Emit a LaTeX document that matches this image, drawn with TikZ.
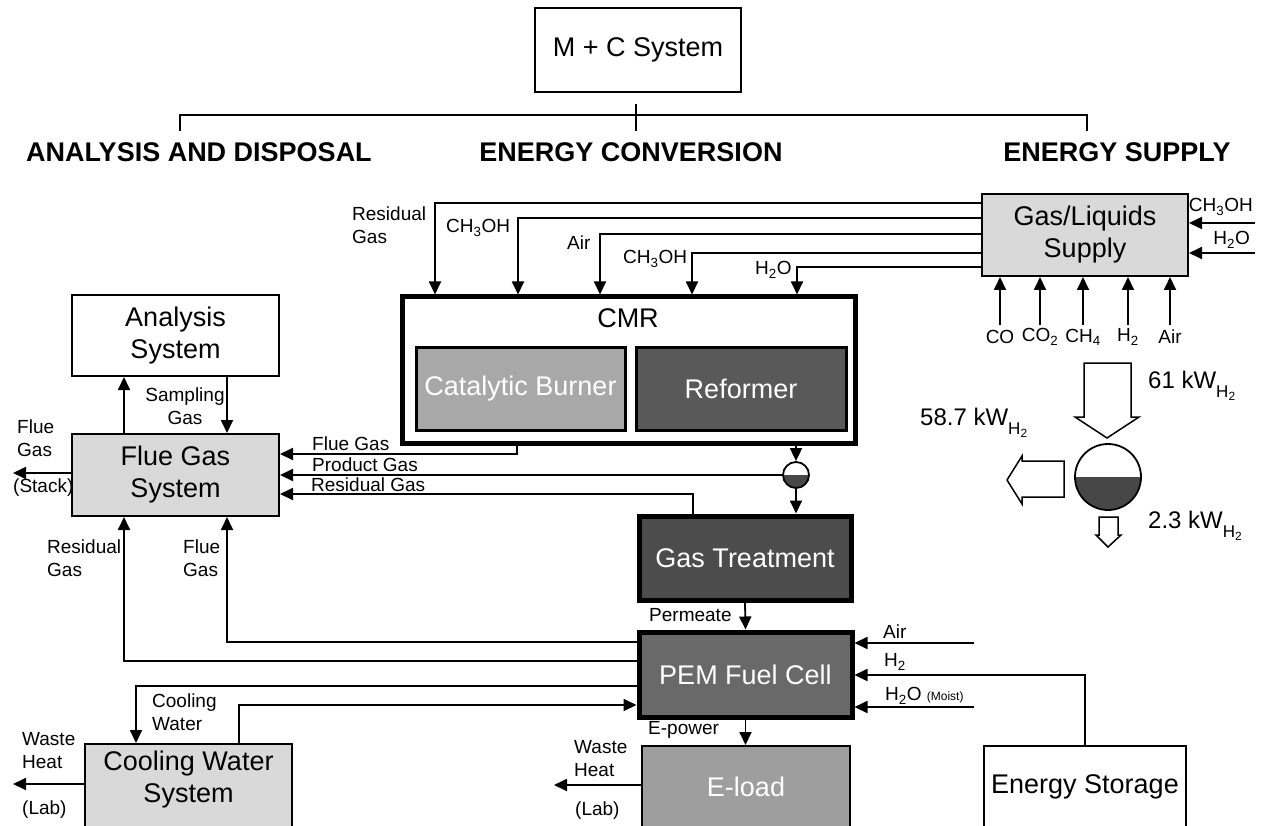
\documentclass[tikz,border=0pt]{standalone}
\usepackage{fontspec}
\setmainfont{Liberation Sans}
\usetikzlibrary{arrows.meta}

\definecolor{lightfill}{gray}{0.85}
\definecolor{burnerfill}{gray}{0.66}
\definecolor{loadfill}{gray}{0.62}
\definecolor{reformfill}{gray}{0.35}
\definecolor{treatfill}{gray}{0.30}
\definecolor{pemfill}{gray}{0.41}
\definecolor{sepfill}{gray}{0.28}

\newcommand\boxfont{\fontsize{27}{32}\selectfont}
\newcommand\lblfont{\fontsize{19}{23}\selectfont}
\newcommand\headfont{\fontsize{27}{30}\selectfont\bfseries}
\newcommand\kwfont{\fontsize{24}{28}\selectfont}
\newcommand\chem[1]{\textsubscript{#1}}
\newcommand\kwsub{\raisebox{-9pt}{\fontsize{17}{19}\selectfont H\chem{2}}}

\begin{document}
\begin{tikzpicture}[x=1pt, y=-1pt,
    box/.style={draw, line width=2pt, font=\boxfont, align=center, inner sep=0pt},
    lightbox/.style={box, fill=lightfill},
    heavybox/.style={box, line width=5pt, text=white},
    flow/.style={line width=1.8pt, -{Triangle[length=13pt,width=12pt]}},
    lbl/.style={font=\lblfont, inner sep=0pt, align=left},
    head/.style={font=\headfont, inner sep=0pt},
    kw/.style={font=\kwfont, inner sep=0pt, anchor=west},
    splitter/.style={circle, draw, line width=1.8pt, inner sep=0pt,
        path picture={\fill[sepfill] (path picture bounding box.west) rectangle (path picture bounding box.south east);}},
    blockarrow/.style={draw, line width=1.5pt, fill=white, line join=miter}]

    \path[use as bounding box, fill=white] (0,0) rectangle (1261,826);

    % Top of the tree
    \node[box, minimum width=206pt, minimum height=84pt] (mc) at (638,50) {M + C System};
    \node[head] (hAD) at (199,152) {ANALYSIS AND DISPOSAL};
    \node[head] (hEC) at (631,152) {ENERGY CONVERSION};
    \node[head] (hES) at (1117,152) {ENERGY SUPPLY};
    \draw[line width=1.8pt] (636,0 |- mc.south) ++(0,11) -- (636,131);
    \draw[line width=1.8pt] (180,131) -- (180,115) -- (1087,115) -- (1087,131);

    % Energy supply
    \node[lightbox, minimum width=206pt, minimum height=82pt] (gls) at (1085,235) {Gas/Liquids\\Supply};
    \node[lbl, anchor=east] (lMeohS) at (1253,207) {CH\chem{3}OH};
    \node[lbl, anchor=east] (lWaterS) at (1250,240) {H\chem{2}O};
    \coordinate (meohin) at (1255,223);
    \coordinate (waterin) at (1255,253);
    \draw[flow] (meohin) -- (gls.east |- meohin);
    \draw[flow] (waterin) -- (gls.east |- waterin);
    \foreach \x/\t in {1000/CO, 1040/CO\chem{2}, 1083/CH\chem{4}, 1128/H\chem{2}, 1170/Air} {
        \node[lbl] (src\x) at (\x,337) {\t};
        \draw[flow] (\x,325) -- (\x,0 |- gls.south);
    }

    % Energy conversion: CMR
    \node[box, line width=5pt, minimum width=453pt, minimum height=146pt] (cmr) at (628.5,370) {};
    \node[inner sep=0pt, font=\boxfont] (cmrT) at (628,318) {CMR};
    \node[box, line width=3pt, fill=burnerfill, text=white, minimum width=209pt, minimum height=83pt] (cb) at (520.5,388.5) {Catalytic Burner};
    \node[box, line width=3pt, fill=reformfill, text=white, minimum width=210pt, minimum height=83pt] (ref) at (741,388.5) {Reformer};
    \foreach \y/\x in {203/435, 218/518, 234/600, 253/692, 267/797}
        \draw[flow] (gls.west |- 0,\y) -| (\x,0 |- cmr.north);
    \node[lbl, anchor=west] (lResT) at (352,225) {Residual\\Gas};
    \node[lbl, anchor=west] (lMeohA) at (446,228) {CH\chem{3}OH};
    \node[lbl, anchor=west] (lAirA) at (567,243) {Air};
    \node[lbl, anchor=west] (lMeohB) at (623,259) {CH\chem{3}OH};
    \node[lbl, anchor=west] (lWaterA) at (755,270) {H\chem{2}O};

    % Separator and gas treatment
    \node[splitter, minimum size=26pt] (sep1) at (796,475) {};
    \node[heavybox, fill=treatfill, minimum width=212pt, minimum height=84pt] (gt) at (745,558) {Gas Treatment};
    \draw[flow] (sep1 |- cmr.south) -- (sep1.north);
    \draw[flow] (sep1.south) -- (sep1 |- gt.north);

    % Analysis and disposal
    \node[box, minimum width=207pt, minimum height=81pt] (as) at (175.5,335.5) {Analysis\\System};
    \node[lightbox, minimum width=207pt, minimum height=82pt] (fgs) at (175.5,475) {Flue Gas\\System};
    \draw[flow] (517,0 |- cmr.south) |- (fgs.east |- 0,454);
    \draw[flow] (sep1.west) -- (fgs.east |- sep1);
    \draw[flow] (693,0 |- gt.north) |- (fgs.east |- 0,494);
    \node[lbl, anchor=west] (lFlueA) at (312,444) {Flue Gas};
    \node[lbl, anchor=west] (lProd) at (312,465) {Product Gas};
    \node[lbl, anchor=west] (lResA) at (311,485) {Residual Gas};
    \draw[flow] (124,0 |- fgs.north) -- (124,0 |- as.south);
    \draw[flow] (227,0 |- as.south) -- (227,0 |- fgs.north);
    \node[lbl, align=center] (lSampl) at (185,406) {Sampling\\Gas};
    \coordinate (stack) at (13,473);
    \draw[flow] (fgs.west |- stack) -- (stack);
    \node[lbl, anchor=west] (lFlueOut) at (17,438) {Flue\\Gas};
    \node[lbl, anchor=west] (lStack) at (13,488) {(Stack)};
    \node[lbl, anchor=west] (lResB) at (47,558) {Residual\\Gas};
    \node[lbl, anchor=west] (lFlueB) at (183,558) {Flue\\Gas};

    % PEM fuel cell
    \node[heavybox, fill=pemfill, minimum width=213pt, minimum height=85pt] (pem) at (745.5,674.5) {PEM Fuel Cell};
    \draw[flow] (gt.south) -- (pem.north);
    \node[lbl, anchor=west] (lPerm) at (649,615) {Permeate};
    \draw[flow] (pem.west |- 0,642) -| (227,0 |- fgs.south);
    \draw[flow] (pem.west |- 0,661) -| (124,0 |- fgs.south);

    % Cooling water
    \node[lightbox, minimum width=207pt, minimum height=84pt] (cws) at (188.5,786) {};
    \node[inner sep=0pt, font=\boxfont, align=center] (cwsT) at (188.5,780) {Cooling Water\\System};
    \draw[flow] (pem.west |- 0,686) -| (136,0 |- cws.north);
    \draw[flow] (239,0 |- cws.north) |- (pem.west |- 0,705);
    \node[lbl, anchor=west] (lCool) at (152,712) {Cooling\\Water};
    \coordinate (heatA) at (13,784);
    \draw[flow] (cws.west |- heatA) -- (heatA);
    \node[lbl, anchor=west] (lWasteA) at (22,751) {Waste\\Heat};
    \node[lbl, anchor=west] (lLabA) at (22,810) {(Lab)};

    % E-load
    \node[box, fill=loadfill, text=white, minimum width=208pt, minimum height=82pt] (el) at (746,787) {E-load};
    \draw[flow] (pem.south) -- (pem.south |- el.north);
    \node[lbl, anchor=west] (lEpow) at (648,730) {E-power};
    \coordinate (heatB) at (554,785);
    \draw[flow] (el.west |- heatB) -- (heatB);
    \node[lbl, anchor=west] (lWasteB) at (574,759) {Waste\\Heat};
    \node[lbl, anchor=west] (lLabB) at (575,811) {(Lab)};

    % Energy storage and PEM inputs
    \node[box, minimum width=202pt, minimum height=82pt] (es) at (1085,787) {Energy Storage};
    \coordinate (airin) at (974,643);
    \coordinate (moistin) at (974,707);
    \draw[flow] (airin) -- (pem.east |- airin);
    \draw[flow] (es.north) |- (pem.east |- 0,675);
    \draw[flow] (moistin) -- (pem.east |- moistin);
    \node[lbl, anchor=west] (lAirP) at (883,632) {Air};
    \node[lbl, anchor=west] (lH2P) at (884,662) {H\chem{2}};
    \node[lbl, anchor=west] (lMoist) at (885,696) {H\chem{2}O {\fontsize{12}{14}\selectfont (Moist)}};

    % Hydrogen balance
    \node[splitter, minimum size=66pt] (bal) at (1108,477) {};
    \draw[blockarrow] (1084,363) -- (1131,363) -- (1131,417) -- (1139,417) -- (1107,438) -- (1075,417) -- (1084,417) -- cycle;
    \draw[blockarrow] (1064,461) -- (1022,461) -- (1022,456) -- (1007,480) -- (1022,504) -- (1022,497) -- (1064,497) -- cycle;
    \draw[blockarrow] (1099,517) -- (1118,517) -- (1118,535) -- (1121,535) -- (1108,547) -- (1096,535) -- (1099,535) -- cycle;
    \node[kw] (kwIn) at (1148,386) {61 kW\kwsub};
    \node[kw] (kwOut) at (920,423) {58.7 kW\kwsub};
    \node[kw] (kwLoss) at (1148,526) {2.3 kW\kwsub};
\end{tikzpicture}
\end{document}
